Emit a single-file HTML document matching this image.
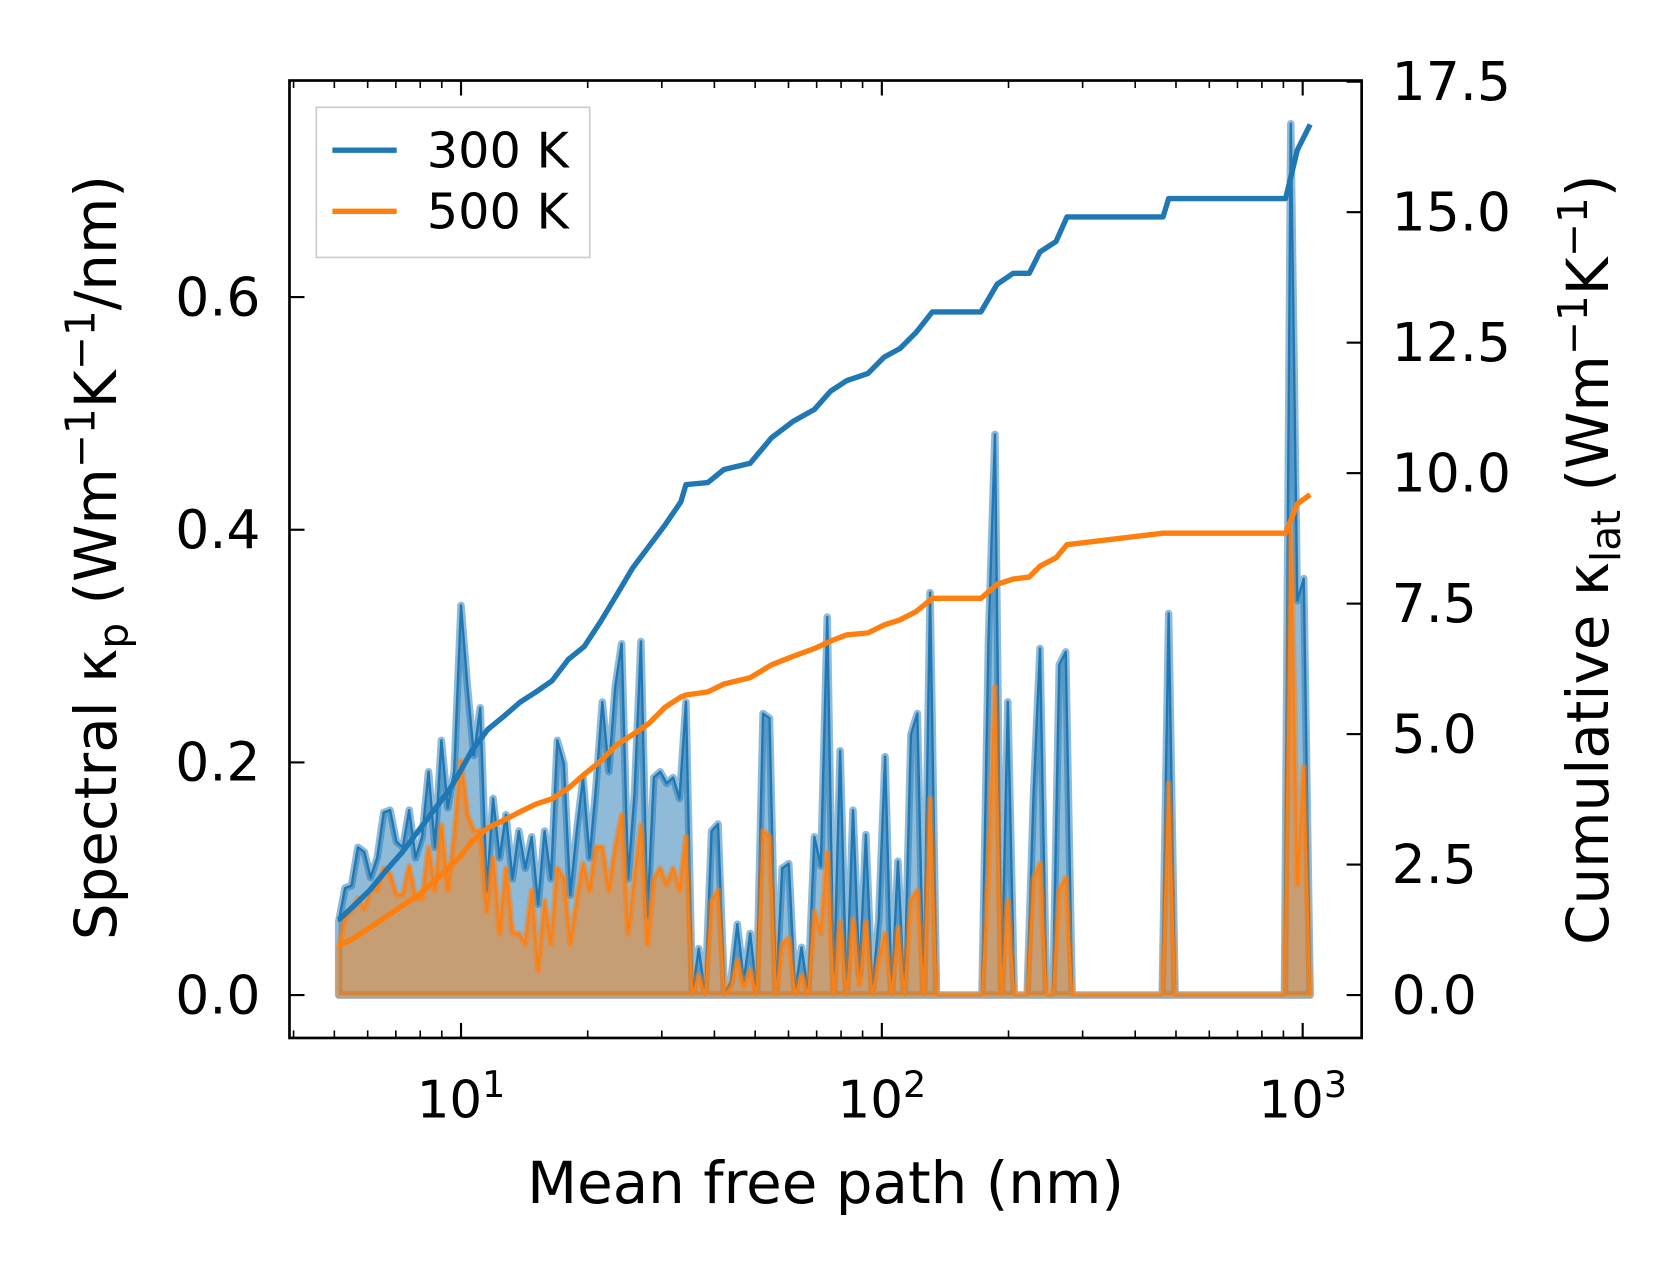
<!DOCTYPE html>
<html><head><meta charset="utf-8">
<style>
html,body{margin:0;padding:0;background:#fff;}
svg{display:block;font-family:"DejaVu Sans","Liberation Sans",sans-serif;}
</style></head>
<body>
<svg id="chart" width="1679" height="1275" viewBox="0 0 1566 1189" xmlns="http://www.w3.org/2000/svg">
<g id="plot"></g>
</svg>
<script>
const mfp = [5.12,5.30,5.49,5.69,5.89,6.10,6.32,6.55,6.78,7.02,7.27,7.53,7.80,8.08,8.37,8.67,8.98,9.30,9.63,10.0,10.36,10.73,11.11,11.51,11.92,12.35,12.79,13.25,13.72,14.21,14.72,15.25,15.79,16.36,16.94,17.55,18.18,18.83,19.50,20.20,20.92,21.67,22.45,23.25,24.08,24.94,25.84,26.76,27.72,28.71,29.74,30.80,31.91,33.05,34.23,35.45,36.72,38.04,39.40,40.81,42.27,43.78,45.35,46.97,48.65,50.39,52.20,54.07,56.00,58.00,60.08,62.23,64.46,66.77,69.16,71.63,74.20,76.85,79.60,82.45,85.40,88.46,91.62,94.90,98.30,101.8,105.5,109.2,113.1,117.2,121.4,125.7,130.2,134.9,139.7,173.0,179.3,185.7,192.4,199.2,206.4,221.4,229.3,237.6,246.1,254.9,264.0,273.5,283.3,463.8,480.4,497.6,905,937,971,1006,1042];
const spec300 = [0.063,0.092,0.094,0.127,0.123,0.101,0.118,0.157,0.159,0.132,0.127,0.159,0.118,0.136,0.192,0.127,0.219,0.161,0.192,0.335,0.265,0.206,0.247,0.090,0.169,0.118,0.155,0.100,0.141,0.109,0.136,0.078,0.141,0.100,0.219,0.199,0.086,0.141,0.187,0.118,0.178,0.252,0.192,0.265,0.302,0.100,0.173,0.304,0.067,0.187,0.192,0.182,0.187,0.169,0.252,0,0.040,0,0.141,0.147,0,0.012,0.061,0.012,0.053,0.003,0.242,0.238,0,0.109,0.113,0.003,0.041,0.003,0.136,0.111,0.325,0.003,0.210,0,0.159,0.017,0.138,0.003,0.065,0.205,0,0.115,0,0.224,0.242,0,0.346,0,0,0,0.307,0.482,0,0.252,0,0,0.173,0.298,0,0,0.284,0.295,0,0,0.328,0,0,0.749,0.339,0.358,0];
const spec500 = [0.040,0.067,0.072,0.083,0.074,0.090,0.090,0.109,0.104,0.086,0.086,0.111,0.083,0.083,0.127,0.090,0.146,0.090,0.136,0.201,0.155,0.141,0.141,0.072,0.118,0.053,0.109,0.053,0.053,0.044,0.090,0.021,0.081,0.044,0.109,0.100,0.044,0.081,0.113,0.090,0.127,0.127,0.090,0.127,0.155,0.053,0.100,0.146,0.044,0.100,0.109,0.095,0.109,0.090,0.136,0,0.017,0,0.081,0.090,0,0.007,0.030,0.007,0.021,0,0.141,0.136,0,0.044,0.049,0,0.017,0,0.072,0.053,0.123,0,0.063,0,0.065,0.009,0.063,0,0.030,0.053,0,0.058,0,0.081,0.090,0,0.169,0,0,0,0.109,0.265,0,0.081,0,0,0.100,0.113,0,0,0.090,0.101,0,0,0.182,0,0,0.399,0.095,0.196,0];
const cumMfp = [5.12,5.56,6.07,6.63,7.24,7.91,8.64,9.43,10.0,10.60,11.58,12.64,13.81,15.08,16.46,17.98,19.63,21.44,23.41,25.56,27.92,30.49,33.29,34.23,38.59,42.13,48.65,54.70,61.50,69.16,75.52,82.45,92.70,101.2,110.5,120.7,131.8,172.0,187.9,205.2,224.0,237.6,259.4,275.4,465.9,480.4,911,971,1042];
const cum300 = [1.44,1.71,2.01,2.38,2.73,3.14,3.55,3.96,4.31,4.68,5.09,5.34,5.61,5.81,6.02,6.43,6.68,7.15,7.66,8.18,8.59,9.00,9.45,9.78,9.82,10.07,10.19,10.68,10.99,11.22,11.57,11.77,11.91,12.22,12.39,12.70,13.09,13.09,13.62,13.83,13.83,14.24,14.44,14.91,14.91,15.26,15.26,16.19,16.68];
const cum500 = [0.94,1.09,1.29,1.50,1.71,1.91,2.18,2.47,2.67,2.94,3.20,3.35,3.51,3.66,3.76,3.96,4.23,4.48,4.79,4.99,5.20,5.51,5.71,5.75,5.81,5.96,6.08,6.33,6.49,6.64,6.78,6.90,6.94,7.09,7.19,7.35,7.60,7.60,7.87,7.97,8.01,8.22,8.38,8.63,8.85,8.85,8.85,9.41,9.59];
const leftTicks = [0.0,0.2,0.4,0.6];
const leftTickLabels = ["0.0","0.2","0.4","0.6"];
const rightTicks = [0,2.5,5,7.5,10,12.5,15,17.5];
const rightTickLabels = ["0.0","2.5","5.0","7.5","10.0","12.5","15.0","17.5"];
const xDecades = [1,2,3];

const L=270,R=1270,T=75,B=968;
const X = v => 430 + (Math.log10(v)-1)*392.5;
const Y = v => 928 - v*1085;
const Y2 = v => 928 - v*48.68;
const NS="http://www.w3.org/2000/svg";
const svg=document.getElementById('chart');
const plot=document.getElementById('plot');
function mk(tag,attrs,parent){const e=document.createElementNS(NS,tag);for(const k in attrs)e.setAttribute(k,attrs[k]);(parent||svg).appendChild(e);return e;}

const defs=mk('defs',{});
const cp=mk('clipPath',{id:'clip'},defs);
mk('rect',{x:L,y:T,width:R-L,height:B-T},cp);
plot.setAttribute('clip-path','url(#clip)');

function areaPath(xs,ys,fy){
  let d='M'+X(xs[0])+','+fy(0);
  for(let i=0;i<xs.length;i++) d+=' L'+X(xs[i]).toFixed(1)+','+fy(ys[i]).toFixed(1);
  d+=' L'+X(xs[xs.length-1])+','+fy(0)+' Z';
  return d;
}
function linePath(xs,ys,fy){
  let d='';
  for(let i=0;i<xs.length;i++) d+=(i?' L':'M')+X(xs[i]).toFixed(1)+','+fy(ys[i]).toFixed(1);
  return d;
}
let e;
e=mk('path',{d:areaPath(mfp,spec300,Y),fill:'rgba(31,119,180,0.5)',stroke:'rgba(31,119,180,0.5)','stroke-width':7,'stroke-linejoin':'round'},plot);


e=mk('path',{d:linePath(mfp,spec300,Y),fill:'none',stroke:'#1f77b4','stroke-width':2.2,'stroke-linejoin':'round'},plot);


e=mk('path',{d:areaPath(mfp,spec500,Y),fill:'rgba(255,127,14,0.5)',stroke:'rgba(255,127,14,0.45)','stroke-width':6,'stroke-linejoin':'round'},plot);


e=mk('path',{d:linePath(mfp,spec500,Y),fill:'none',stroke:'#ff7f0e','stroke-width':2,'stroke-linejoin':'round'},plot);


e=mk('path',{d:linePath(cumMfp,cum300,Y2),fill:'none',stroke:'#1f77b4','stroke-width':5,'stroke-linejoin':'round'},plot);


e=mk('path',{d:linePath(cumMfp,cum500,Y2),fill:'none',stroke:'#ff7f0e','stroke-width':5,'stroke-linejoin':'round'},plot);



e=mk('rect',{x:L,y:T,width:R-L,height:B-T,fill:'none',stroke:'#000','stroke-width':2.5});



for(const d of xDecades){
  const px=X(Math.pow(10,d));
  mk('line',{x1:px,y1:B,x2:px,y2:B-14,stroke:'#000','stroke-width':2});
  mk('line',{x1:px,y1:T,x2:px,y2:T+14,stroke:'#000','stroke-width':2});
  const t=mk('text',{x:px,y:1042,'font-size':48,'text-anchor':'middle'});
  
  
  t.innerHTML='10<tspan dy="-19" font-size="34">'+d+'</tspan>';
}
for(let d=0;d<=3;d++){
  for(let m=2;m<=9;m++){
    const v=m*Math.pow(10,d);
    const px=X(v);
    if(px<L||px>R) continue;
    mk('line',{x1:px,y1:B,x2:px,y2:B-7,stroke:'#000','stroke-width':1.5});
    mk('line',{x1:px,y1:T,x2:px,y2:T+7,stroke:'#000','stroke-width':1.5});
  }
}
leftTicks.forEach((v,i)=>{
  const py=Y(v);
  mk('line',{x1:L,y1:py,x2:L+14,y2:py,stroke:'#000','stroke-width':2});
  const t=mk('text',{x:243,y:py+17,'font-size':50,'text-anchor':'end'});
  
  
  t.textContent=leftTickLabels[i];
});
rightTicks.forEach((v,i)=>{
  const py=Y2(v);
  mk('line',{x1:R,y1:py,x2:R-14,y2:py,stroke:'#000','stroke-width':2});
  const t=mk('text',{x:1298,y:py+17,'font-size':50,'text-anchor':'start'});
  
  
  t.textContent=rightTickLabels[i];
});
</script>
<svg style="position:absolute;left:0;top:0" width="1679" height="1275" viewBox="0 0 1566 1189" xmlns="http://www.w3.org/2000/svg" font-family="DejaVu Sans, Liberation Sans, sans-serif">
<text x="770" y="1122" font-size="54" text-anchor="middle">Mean free path (nm)</text>
<text transform="translate(108,520) rotate(-90)" font-size="54" text-anchor="middle">Spectral κ<tspan dy="11" font-size="38">p</tspan><tspan dy="-11"> (Wm</tspan><tspan dy="-20" font-size="38">−1</tspan><tspan dy="20">K</tspan><tspan dy="-20" font-size="38">−1</tspan><tspan dy="20">/nm)</tspan></text>
<text transform="translate(1500,522) rotate(-90)" font-size="54" text-anchor="middle">Cumulative κ<tspan dy="11" font-size="38">lat</tspan><tspan dy="-11"> (Wm</tspan><tspan dy="-20" font-size="38">−1</tspan><tspan dy="20">K</tspan><tspan dy="-20" font-size="38">−1</tspan><tspan dy="20">)</tspan></text>
<g>
<rect x="295" y="100" width="255" height="140" fill="#fff" fill-opacity="0.8" stroke="#ccc" stroke-width="1.5"/>
<line x1="310" y1="140" x2="370" y2="140" stroke="#1f77b4" stroke-width="5"/>
<text x="398" y="156" font-size="46">300 K</text>
<line x1="310" y1="197" x2="370" y2="197" stroke="#ff7f0e" stroke-width="5"/>
<text x="398" y="213" font-size="46">500 K</text>
</g>
</svg>
</body></html>
